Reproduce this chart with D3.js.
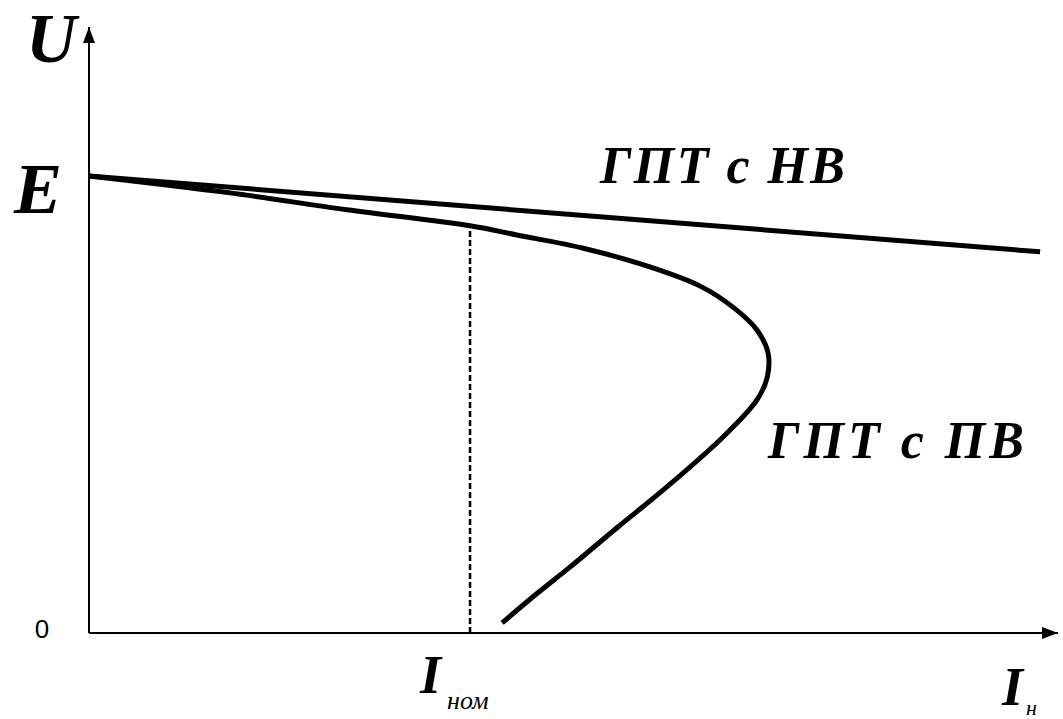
<!DOCTYPE html>
<html>
<head>
    <meta charset="utf-8">
    <title>ГПТ характеристики</title>
    <script src="https://cdnjs.cloudflare.com/ajax/libs/d3/7.8.5/d3.min.js"></script>
    <style>
        body { margin: 0; background: #fff; }
        .lbl { font-family: "Liberation Serif", "DejaVu Serif", serif; font-style: italic; font-weight: bold; fill: #000; }
    </style>
</head>
<body>
    <div id="chart"></div>
    <script>
        // I in units of I_nom, U in units of E
        const pvCurrent = [0, 0.37, 0.677, 1.0, 1.123, 1.297, 1.472, 1.604, 1.69, 1.753, 1.782, 1.78, 1.753, 1.664, 1.507, 1.388, 1.262, 1.178, 1.084];
        const pvVoltage = [1.0, 0.963, 0.926, 0.891, 0.871, 0.842, 0.801, 0.759, 0.713, 0.663, 0.613, 0.56, 0.51, 0.429, 0.313, 0.232, 0.144, 0.088, 0.022];
        const nvCurrent = [0, 2.496];
        const nvVoltage = [1.0, 0.834];
        const iNom = 1.0;
        const eLevel = 1.0;

        const width = 1063;
        const height = 719;

        const svg = d3.select("#chart")
            .append("svg")
            .attr("width", width)
            .attr("height", height);

        const x = d3.scaleLinear().domain([0, 2.543]).range([89, 1058]);
        const y = d3.scaleLinear().domain([0, 1.326]).range([633, 27]);

        const defs = svg.append("defs");
        defs.append("marker")
            .attr("id", "arrow")
            .attr("viewBox", "0 0 16 12")
            .attr("refX", 16)
            .attr("refY", 6)
            .attr("markerWidth", 16)
            .attr("markerHeight", 12)
            .attr("markerUnits", "userSpaceOnUse")
            .attr("orient", "auto")
            .append("path")
            .attr("d", "M0,0 L16,6 L0,12 Z")
            .attr("fill", "#000");

        // axes
        svg.append("line")
            .attr("x1", x(0)).attr("y1", y(0))
            .attr("x2", x(0)).attr("y2", y.range()[1])
            .attr("stroke", "#000").attr("stroke-width", 2)
            .attr("marker-end", "url(#arrow)");
        svg.append("line")
            .attr("x1", x(0)).attr("y1", y(0))
            .attr("x2", x.range()[1]).attr("y2", y(0))
            .attr("stroke", "#000").attr("stroke-width", 2)
            .attr("marker-end", "url(#arrow)");

        const pvData = pvCurrent.map((d, i) => [d, pvVoltage[i]]);
        const nvData = nvCurrent.map((d, i) => [d, nvVoltage[i]]);

        const line = d3.line()
            .x(d => x(d[0]))
            .y(d => y(d[1]))
            .curve(d3.curveCatmullRom.alpha(0.5));

        // I_nom dashed line
        const pvAtNom = pvData.find(d => d[0] === iNom);
        svg.append("line")
            .attr("x1", x(iNom)).attr("y1", y(0))
            .attr("x2", x(iNom)).attr("y2", y(pvAtNom[1]))
            .attr("stroke", "#000").attr("stroke-width", 2.5)
            .attr("stroke-dasharray", "6,3");

        svg.append("path")
            .datum(nvData)
            .attr("d", line)
            .attr("fill", "none")
            .attr("stroke", "#000")
            .attr("stroke-width", 5);

        svg.append("path")
            .datum(pvData)
            .attr("d", line)
            .attr("fill", "none")
            .attr("stroke", "#000")
            .attr("stroke-width", 5);

        // labels
        function label(px, py, size, str) {
            return svg.append("text")
                .attr("class", "lbl")
                .attr("x", px).attr("y", py)
                .style("font-size", size + "px")
                .text(str);
        }

        label(26, 62, 70, "U");
        label(14, y(eLevel) + 37, 72, "E");

        svg.append("text")
            .attr("x", 42).attr("y", 638)
            .attr("text-anchor", "middle")
            .style("font-family", "'Liberation Sans', Arial, sans-serif")
            .style("font-size", "26px")
            .style("font-weight", "300")
            .text("0");

        const iLabel = label(x(iNom) - 50, 693, 54, "");
        iLabel.append("tspan").text("I");
        iLabel.append("tspan").style("font-size", "26px").style("font-weight", "normal")
            .attr("dx", 6).attr("dy", 16).text("ном");

        const inLabel = label(1002, 705, 54, "");
        inLabel.append("tspan").text("I");
        inLabel.append("tspan").style("font-size", "22px").style("font-weight", "normal")
            .attr("dx", 3).attr("dy", 10).text("н");

        label(600, 183, 52, "ГПТ с НВ")
            .attr("textLength", 245).attr("lengthAdjust", "spacing");
        label(768, 458, 52, "ГПТ с ПВ")
            .attr("textLength", 256).attr("lengthAdjust", "spacing");
    </script>
</body>
</html>
